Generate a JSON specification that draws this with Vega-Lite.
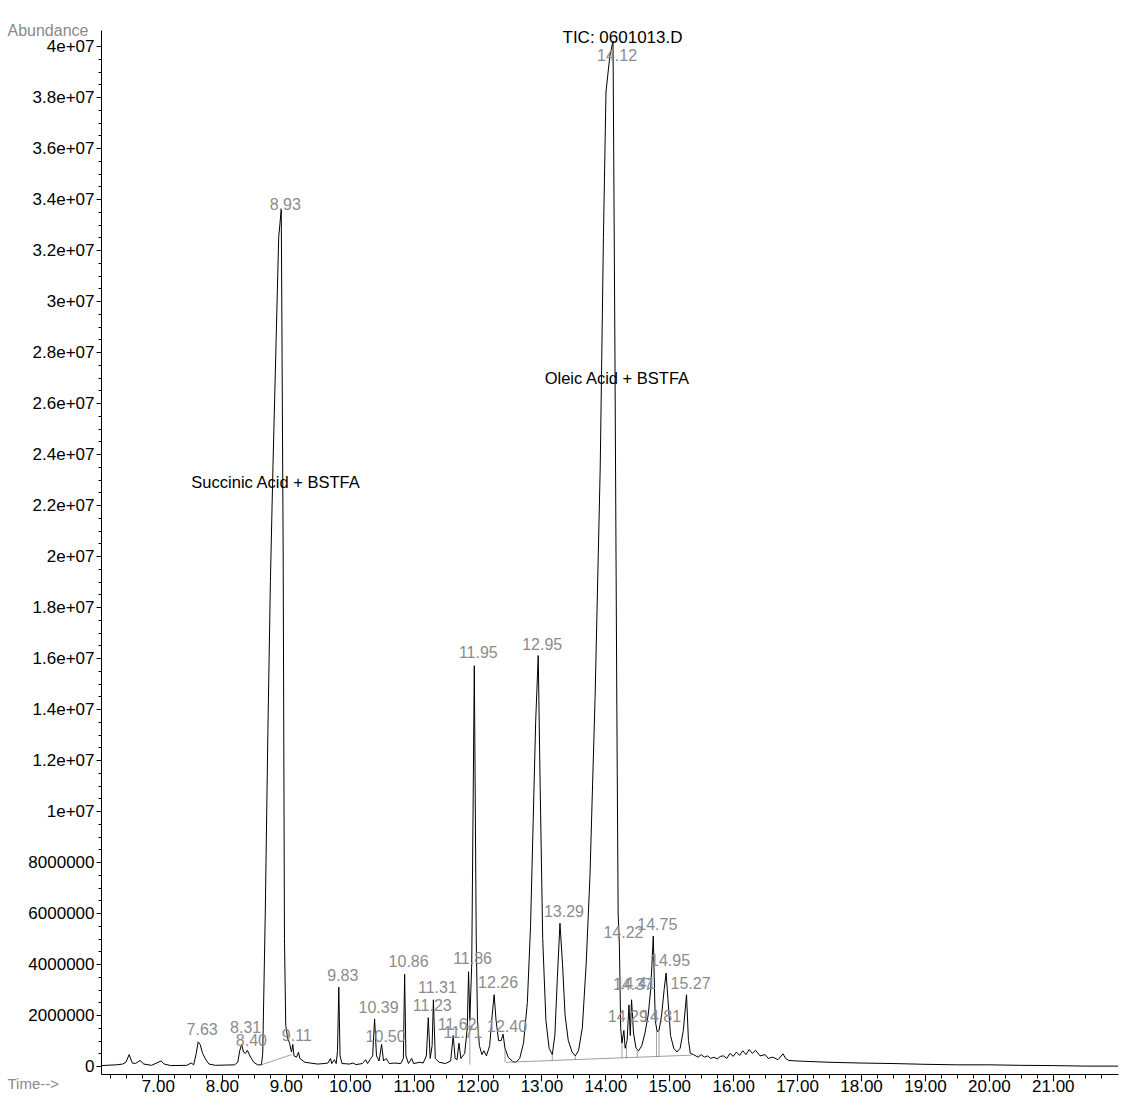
{
  "$schema": "https://vega.github.io/schema/vega-lite/v6.json",
  "width": 1017,
  "height": 1044,
  "autosize": {"type": "none"},
  "padding": {"left": 101, "top": 30, "right": 3, "bottom": 25},
  "background": "white",
  "config": {
    "view": {"stroke": null},
    "font": "Liberation Sans",
    "axis": {"domainColor": "black", "tickColor": "black", "labelColor": "black", "labelFont": "Liberation Sans", "grid": false, "domainWidth": 1, "tickWidth": 1}
  },
  "title": {"text": "TIC: 0601013.D", "font": "Liberation Sans", "fontSize": 17, "fontWeight": "normal", "color": "black", "anchor": "middle", "dx": 13, "offset": -33, "baseline": "middle"},
  "datasets": {
    "trace": [
      {"t": 6.11, "v": 20000}, {"t": 6.35, "v": 50000}, {"t": 6.45, "v": 80000}, {"t": 6.5, "v": 150000}, {"t": 6.55, "v": 450000}, {"t": 6.6, "v": 120000}, {"t": 6.65, "v": 100000}, {"t": 6.72, "v": 220000}, {"t": 6.78, "v": 80000}, {"t": 6.9, "v": 30000}, {"t": 7.05, "v": 200000}, {"t": 7.1, "v": 80000}, {"t": 7.2, "v": 20000}, {"t": 7.45, "v": 30000}, {"t": 7.52, "v": 120000}, {"t": 7.56, "v": 50000}, {"t": 7.6, "v": 500000}, {"t": 7.63, "v": 950000}, {"t": 7.66, "v": 850000}, {"t": 7.7, "v": 500000}, {"t": 7.75, "v": 250000}, {"t": 7.8, "v": 80000}, {"t": 7.9, "v": 30000}, {"t": 8.2, "v": 50000}, {"t": 8.25, "v": 150000}, {"t": 8.28, "v": 600000}, {"t": 8.31, "v": 850000}, {"t": 8.34, "v": 550000}, {"t": 8.37, "v": 500000}, {"t": 8.4, "v": 620000}, {"t": 8.45, "v": 350000}, {"t": 8.5, "v": 150000}, {"t": 8.56, "v": 50000}, {"t": 8.62, "v": 50000},
      {"t": 8.64, "v": 500000}, {"t": 8.68, "v": 6000000}, {"t": 8.72, "v": 13000000}, {"t": 8.76, "v": 19000000}, {"t": 8.8, "v": 23500000}, {"t": 8.85, "v": 28500000}, {"t": 8.89, "v": 32500000}, {"t": 8.93, "v": 33600000}, {"t": 8.96, "v": 20000000}, {"t": 8.98, "v": 5000000}, {"t": 9.0, "v": 1600000}, {"t": 9.03, "v": 1100000}, {"t": 9.06, "v": 900000}, {"t": 9.09, "v": 550000}, {"t": 9.11, "v": 850000}, {"t": 9.13, "v": 400000}, {"t": 9.17, "v": 350000}, {"t": 9.2, "v": 550000}, {"t": 9.22, "v": 300000}, {"t": 9.3, "v": 150000}, {"t": 9.5, "v": 80000}, {"t": 9.6, "v": 100000}, {"t": 9.66, "v": 120000}, {"t": 9.7, "v": 300000}, {"t": 9.72, "v": 100000}, {"t": 9.76, "v": 250000}, {"t": 9.79, "v": 100000}, {"t": 9.81, "v": 600000}, {"t": 9.83, "v": 3100000}, {"t": 9.85, "v": 400000}, {"t": 9.88, "v": 100000},
      {"t": 10.0, "v": 80000}, {"t": 10.05, "v": 120000}, {"t": 10.1, "v": 60000}, {"t": 10.2, "v": 100000}, {"t": 10.25, "v": 250000}, {"t": 10.28, "v": 100000}, {"t": 10.33, "v": 300000}, {"t": 10.36, "v": 400000}, {"t": 10.39, "v": 1850000}, {"t": 10.42, "v": 400000}, {"t": 10.46, "v": 200000}, {"t": 10.5, "v": 850000}, {"t": 10.53, "v": 200000}, {"t": 10.57, "v": 300000}, {"t": 10.62, "v": 100000}, {"t": 10.7, "v": 120000}, {"t": 10.8, "v": 100000}, {"t": 10.84, "v": 300000}, {"t": 10.86, "v": 3600000}, {"t": 10.88, "v": 400000}, {"t": 10.92, "v": 100000}, {"t": 10.97, "v": 300000}, {"t": 11.0, "v": 100000}, {"t": 11.1, "v": 150000}, {"t": 11.15, "v": 120000}, {"t": 11.2, "v": 400000}, {"t": 11.23, "v": 1900000}, {"t": 11.26, "v": 300000}, {"t": 11.29, "v": 800000}, {"t": 11.31, "v": 2600000}, {"t": 11.34, "v": 300000}, {"t": 11.4, "v": 150000}, {"t": 11.5, "v": 100000}, {"t": 11.58, "v": 200000}, {"t": 11.62, "v": 1200000}, {"t": 11.65, "v": 300000}, {"t": 11.68, "v": 250000}, {"t": 11.71, "v": 900000}, {"t": 11.74, "v": 300000}, {"t": 11.8, "v": 500000}, {"t": 11.84, "v": 1500000}, {"t": 11.86, "v": 3700000}, {"t": 11.88, "v": 1800000}, {"t": 11.91, "v": 4000000}, {"t": 11.95, "v": 15700000}, {"t": 11.98, "v": 5000000},
      {"t": 12.0, "v": 1800000}, {"t": 12.03, "v": 800000}, {"t": 12.07, "v": 450000}, {"t": 12.1, "v": 600000}, {"t": 12.14, "v": 400000}, {"t": 12.19, "v": 800000}, {"t": 12.23, "v": 2000000}, {"t": 12.26, "v": 2800000}, {"t": 12.29, "v": 1800000}, {"t": 12.33, "v": 1000000}, {"t": 12.37, "v": 1000000}, {"t": 12.4, "v": 1250000}, {"t": 12.43, "v": 700000}, {"t": 12.48, "v": 350000}, {"t": 12.55, "v": 180000}, {"t": 12.6, "v": 150000}, {"t": 12.66, "v": 300000}, {"t": 12.72, "v": 900000}, {"t": 12.78, "v": 2500000}, {"t": 12.83, "v": 5500000}, {"t": 12.87, "v": 9500000}, {"t": 12.91, "v": 13500000}, {"t": 12.95, "v": 16100000}, {"t": 12.98, "v": 11000000},
      {"t": 13.02, "v": 5000000}, {"t": 13.07, "v": 1800000}, {"t": 13.12, "v": 700000}, {"t": 13.17, "v": 450000}, {"t": 13.21, "v": 1200000}, {"t": 13.25, "v": 3500000}, {"t": 13.29, "v": 5600000}, {"t": 13.33, "v": 4000000}, {"t": 13.37, "v": 2000000}, {"t": 13.42, "v": 1000000}, {"t": 13.48, "v": 550000}, {"t": 13.53, "v": 400000}, {"t": 13.58, "v": 600000}, {"t": 13.64, "v": 1500000}, {"t": 13.7, "v": 4000000}, {"t": 13.76, "v": 7500000}, {"t": 13.84, "v": 14500000}, {"t": 13.92, "v": 23500000}, {"t": 13.97, "v": 32500000},
      {"t": 14.01, "v": 38200000}, {"t": 14.07, "v": 39600000}, {"t": 14.12, "v": 40200000}, {"t": 14.15, "v": 28000000}, {"t": 14.18, "v": 14000000}, {"t": 14.2, "v": 6000000}, {"t": 14.22, "v": 4700000}, {"t": 14.24, "v": 1500000}, {"t": 14.26, "v": 900000}, {"t": 14.29, "v": 1400000}, {"t": 14.31, "v": 700000}, {"t": 14.34, "v": 1000000}, {"t": 14.37, "v": 2400000}, {"t": 14.39, "v": 1200000}, {"t": 14.41, "v": 2600000}, {"t": 14.44, "v": 1300000}, {"t": 14.48, "v": 700000}, {"t": 14.52, "v": 600000}, {"t": 14.57, "v": 800000}, {"t": 14.62, "v": 1300000}, {"t": 14.67, "v": 2000000}, {"t": 14.71, "v": 3000000}, {"t": 14.75, "v": 5100000}, {"t": 14.78, "v": 1800000}, {"t": 14.81, "v": 1350000}, {"t": 14.84, "v": 1400000}, {"t": 14.88, "v": 2000000}, {"t": 14.92, "v": 3000000}, {"t": 14.95, "v": 3650000}, {"t": 14.98, "v": 2600000},
      {"t": 15.02, "v": 1200000}, {"t": 15.07, "v": 700000}, {"t": 15.12, "v": 550000}, {"t": 15.17, "v": 700000}, {"t": 15.22, "v": 1400000}, {"t": 15.27, "v": 2800000}, {"t": 15.3, "v": 1000000}, {"t": 15.33, "v": 500000}, {"t": 15.38, "v": 450000}, {"t": 15.45, "v": 350000}, {"t": 15.5, "v": 450000}, {"t": 15.55, "v": 350000}, {"t": 15.6, "v": 400000}, {"t": 15.65, "v": 300000}, {"t": 15.7, "v": 350000}, {"t": 15.75, "v": 280000}, {"t": 15.8, "v": 380000}, {"t": 15.85, "v": 400000}, {"t": 15.9, "v": 300000}, {"t": 15.95, "v": 500000},
      {"t": 16.0, "v": 380000}, {"t": 16.05, "v": 550000}, {"t": 16.1, "v": 420000}, {"t": 16.15, "v": 600000}, {"t": 16.2, "v": 450000}, {"t": 16.25, "v": 650000}, {"t": 16.3, "v": 500000}, {"t": 16.35, "v": 620000}, {"t": 16.42, "v": 400000}, {"t": 16.5, "v": 450000}, {"t": 16.55, "v": 300000}, {"t": 16.62, "v": 350000}, {"t": 16.7, "v": 250000}, {"t": 16.78, "v": 480000}, {"t": 16.82, "v": 300000}, {"t": 16.87, "v": 220000},
      {"t": 17.0, "v": 200000}, {"t": 17.2, "v": 180000}, {"t": 17.5, "v": 150000}, {"t": 18.0, "v": 120000}, {"t": 18.5, "v": 100000}, {"t": 19.0, "v": 70000}, {"t": 19.5, "v": 50000}, {"t": 20.0, "v": 50000}, {"t": 20.5, "v": 30000}, {"t": 21.0, "v": 20000}, {"t": 21.5, "v": 0}, {"t": 22.02, "v": 0}
    ],
    "baselines": [
      {"seg": "a", "t": 8.62, "v": 50000}, {"seg": "a", "t": 9.09, "v": 450000},
      {"seg": "b", "t": 12.45, "v": 150000}, {"seg": "b", "t": 15.35, "v": 430000},
      {"seg": "c", "t": 13.17, "v": 210000}, {"seg": "c", "t": 13.17, "v": 450000},
      {"seg": "d", "t": 13.53, "v": 240000}, {"seg": "d", "t": 13.53, "v": 400000},
      {"seg": "e", "t": 14.26, "v": 310000}, {"seg": "e", "t": 14.26, "v": 900000},
      {"seg": "f", "t": 14.33, "v": 310000}, {"seg": "f", "t": 14.33, "v": 900000},
      {"seg": "g", "t": 14.5, "v": 330000}, {"seg": "g", "t": 14.5, "v": 650000},
      {"seg": "h", "t": 14.8, "v": 350000}, {"seg": "h", "t": 14.8, "v": 1350000},
      {"seg": "i", "t": 14.84, "v": 360000}, {"seg": "i", "t": 14.84, "v": 1400000},
      {"seg": "j", "t": 12.43, "v": 150000}, {"seg": "j", "t": 12.43, "v": 700000},
      {"seg": "k", "t": 11.88, "v": 60000}, {"seg": "k", "t": 11.88, "v": 1800000}
    ],
    "peaks": [
      {"label": "7.63", "t": 7.63, "ly": 1410000},
      {"label": "8.31", "t": 8.31, "ly": 1490000},
      {"label": "8.40", "t": 8.40, "ly": 980000},
      {"label": "8.93", "t": 8.93, "ly": 33770000},
      {"label": "9.11", "t": 9.11, "ly": 1180000},
      {"label": "9.83", "t": 9.83, "ly": 3530000},
      {"label": "10.39", "t": 10.39, "ly": 2270000},
      {"label": "10.50", "t": 10.50, "ly": 1140000},
      {"label": "10.86", "t": 10.86, "ly": 4080000},
      {"label": "11.23", "t": 11.23, "ly": 2350000},
      {"label": "11.31", "t": 11.31, "ly": 3060000},
      {"label": "11.62", "t": 11.62, "ly": 1610000},
      {"label": "11.71", "t": 11.71, "ly": 1290000},
      {"label": "11.86", "t": 11.86, "ly": 4200000},
      {"label": "11.95", "t": 11.95, "ly": 16200000},
      {"label": "12.26", "t": 12.26, "ly": 3250000},
      {"label": "12.40", "t": 12.40, "ly": 1530000},
      {"label": "12.95", "t": 12.95, "ly": 16500000},
      {"label": "13.29", "t": 13.29, "ly": 6040000},
      {"label": "14.12", "t": 14.12, "ly": 39600000},
      {"label": "14.22", "t": 14.22, "ly": 5220000},
      {"label": "14.29", "t": 14.29, "ly": 1920000},
      {"label": "14.37", "t": 14.37, "ly": 3180000},
      {"label": "14.41", "t": 14.41, "ly": 3220000},
      {"label": "14.75", "t": 14.75, "ly": 5530000},
      {"label": "14.81", "t": 14.81, "ly": 1920000},
      {"label": "14.95", "t": 14.95, "ly": 4120000},
      {"label": "15.27", "t": 15.27, "ly": 3220000}
    ],
    "notes": [
      {"text": "Succinic Acid + BSTFA", "t": 8.84, "v": 22850000},
      {"text": "Oleic Acid + BSTFA", "t": 14.18, "v": 26950000}
    ]
  },
  "layer": [
    {
      "data": {"name": "trace"},
      "mark": {"type": "line", "color": "black", "strokeWidth": 1, "clip": true},
      "encoding": {
        "x": {"field": "t", "type": "quantitative", "scale": {"domain": [6.11, 22.02], "nice": false, "zero": false},
          "axis": {"orient": "bottom", "values": [7, 8, 9, 10, 11, 12, 13, 14, 15, 16, 17, 18, 19, 20, 21], "format": ".2f", "labelFontSize": 17, "tickSize": 7, "labelPadding": -3, "title": "Time-->", "titleFontSize": 15, "titleFontWeight": "normal", "titleColor": "#8a8a8a", "titleAnchor": "start", "titleAlign": "left", "titleX": -94, "titleY": 9, "titleBaseline": "middle", "labelFlush": false}},
        "y": {"field": "v", "type": "quantitative", "scale": {"domain": [-310000, 40630000], "nice": false, "zero": false},
          "axis": {"orient": "left", "values": [0, 2000000, 4000000, 6000000, 8000000, 10000000, 12000000, 14000000, 16000000, 18000000, 20000000, 22000000, 24000000, 26000000, 28000000, 30000000, 32000000, 34000000, 36000000, 38000000, 40000000],
            "labelExpr": "datum.value >= 10000000 ? replace(format(datum.value, '.2~e'), 'e+7', 'e+07') : format(datum.value, 'd')",
            "labelFontSize": 17, "tickSize": 5, "labelPadding": 2, "title": "Abundance", "titleAngle": 0, "titleFontSize": 16, "titleFontWeight": "normal", "titleColor": "#8a8a8a", "titleAlign": "left", "titleBaseline": "middle", "titleX": -94, "titleY": 0, "labelFlush": false}}
      }
    },
    {
      "data": {"name": "trace"},
      "mark": {"type": "line", "opacity": 0},
      "encoding": {
        "x": {"field": "t", "type": "quantitative",
          "axis": {"orient": "bottom", "values": [6.25, 6.5, 6.75, 7.25, 7.5, 7.75, 8.25, 8.5, 8.75, 9.25, 9.5, 9.75, 10.25, 10.5, 10.75, 11.25, 11.5, 11.75, 12.25, 12.5, 12.75, 13.25, 13.5, 13.75, 14.25, 14.5, 14.75, 15.25, 15.5, 15.75, 16.25, 16.5, 16.75, 17.25, 17.5, 17.75, 18.25, 18.5, 18.75, 19.25, 19.5, 19.75, 20.25, 20.5, 20.75, 21.25, 21.5, 21.75],
            "labels": false, "domain": false, "tickSize": 4, "title": null}},
        "y": {"field": "v", "type": "quantitative",
          "axis": {"orient": "left", "values": [500000, 1000000, 1500000, 2500000, 3000000, 3500000, 4500000, 5000000, 5500000, 6500000, 7000000, 7500000, 8500000, 9000000, 9500000, 10500000, 11000000, 11500000, 12500000, 13000000, 13500000, 14500000, 15000000, 15500000, 16500000, 17000000, 17500000, 18500000, 19000000, 19500000, 20500000, 21000000, 21500000, 22500000, 23000000, 23500000, 24500000, 25000000, 25500000, 26500000, 27000000, 27500000, 28500000, 29000000, 29500000, 30500000, 31000000, 31500000, 32500000, 33000000, 33500000, 34500000, 35000000, 35500000, 36500000, 37000000, 37500000, 38500000, 39000000, 39500000],
            "labels": false, "domain": false, "tickSize": 3, "title": null}}
      }
    },
    {
      "data": {"name": "baselines"},
      "mark": {"type": "line", "color": "#777777", "strokeWidth": 0.7},
      "encoding": {
        "x": {"field": "t", "type": "quantitative", "axis": null},
        "y": {"field": "v", "type": "quantitative", "axis": null},
        "detail": {"field": "seg"}
      }
    },
    {
      "data": {"name": "peaks"},
      "mark": {"type": "text", "color": "#8c8c8c", "fontSize": 16, "font": "Liberation Sans", "align": "center", "baseline": "middle", "dx": 4},
      "encoding": {
        "x": {"field": "t", "type": "quantitative", "axis": null},
        "y": {"field": "ly", "type": "quantitative", "axis": null},
        "text": {"field": "label"}
      }
    },
    {
      "data": {"name": "notes"},
      "mark": {"type": "text", "color": "black", "fontSize": 16.5, "font": "Liberation Sans", "align": "center", "baseline": "middle"},
      "encoding": {
        "x": {"field": "t", "type": "quantitative", "axis": null},
        "y": {"field": "v", "type": "quantitative", "axis": null},
        "text": {"field": "text"}
      }
    }
  ],
  "resolve": {"axis": {"x": "independent", "y": "independent"}}
}
